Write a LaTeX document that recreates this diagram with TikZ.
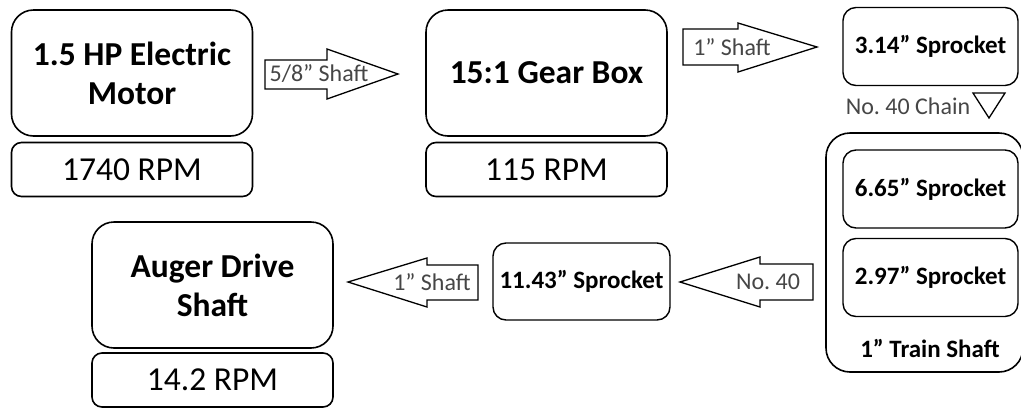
\documentclass[tikz,border=0pt]{standalone}
\usepackage{fontspec}
\setmainfont{Carlito}
\usepackage{tikz}
\usetikzlibrary{positioning}
\definecolor{lblgray}{RGB}{70,70,70}
\frenchspacing

\begin{document}
\begin{tikzpicture}[x=1pt, y=-1pt,
        bigbox/.style={draw, line width=1.6pt, rounded corners=22pt, align=center,
                       inner sep=0pt, minimum width=241pt, minimum height=126pt,
                       font=\bfseries\fontsize{33.5}{39}\selectfont},
        rpmbox/.style={draw, line width=1.6pt, rounded corners=10pt, inner sep=0pt,
                       minimum width=241pt, minimum height=54pt,
                       font=\fontsize{33.5}{39}\selectfont},
        sprbox/.style={draw, line width=1.4pt, rounded corners=13pt, inner sep=0pt,
                       minimum width=175pt, minimum height=78pt,
                       font=\bfseries\fontsize{25}{29}\selectfont},
        barrow/.style={draw, line width=1.3pt, fill=white, line join=miter},
        shaftlbl/.style={inner sep=0pt, text=lblgray, font=\fontsize{24}{28}\selectfont}
      ]
        \useasboundingbox (0,0) rectangle (1021,408);
        % Top row
        \node[bigbox] (motor) at (132,73) {1.5 HP Electric\\Motor};
        \node[rpmbox] (motorrpm) at (132,169.5) {1740 RPM};
        \node[bigbox] (gearbox) at (546.5,73) {15:1 Gear Box};
        \node[rpmbox] (gearrpm) at (546.5,169.5) {115 RPM};
        \node[sprbox] (spr314) at (930.5,46.5) {3.14” Sprocket};
        % 5/8" shaft
        \draw[barrow] (265,60) -- (327,60) -- (327,49) -- (398,74) -- (327,99)
          -- (327,89) -- (265,89) -- cycle;
        \node[shaftlbl] (shaftA) at (319,74) {5/8” Shaft};
        % 1" shaft
        \draw[barrow] (683,29) -- (738,29) -- (738,23) -- (817,47) -- (738,72)
          -- (738,65) -- (683,65) -- cycle;
        \node[shaftlbl] (shaftB) at (732,47) {1” Shaft};
        % Chain
        \node[shaftlbl] (chainlbl) at (908,106) {No. 40 Chain};
        \draw[barrow] (973,93) -- (1005,93) -- (989,118) -- cycle;
        % Train shaft
        \node[draw, line width=1.6pt, rounded corners=24pt, minimum width=197pt,
              minimum height=239pt] (trainshaft) at (924.5,252.5) {};
        \node[sprbox] (spr665) at (930.5,189) {6.65” Sprocket};
        \node[sprbox] (spr297) at (930.5,277.5) {2.97” Sprocket};
        \node[inner sep=0pt, font=\bfseries\fontsize{25}{29}\selectfont]
          (trainlbl) at (930,348) {1” Train Shaft};
        % Bottom row
        \draw[barrow] (813,264) -- (760,264) -- (760,257) -- (680,282) -- (760,307)
          -- (760,300) -- (813,300) -- cycle;
        \node[shaftlbl] (chainB) at (768,282) {No. 40};
        \node[sprbox, minimum width=177pt, minimum height=77pt] (spr1143)
          at (581.5,281.5) {11.43” Sprocket};
        \draw[barrow] (478,265) -- (427,265) -- (427,258) -- (348,282) -- (427,307)
          -- (427,300) -- (478,300) -- cycle;
        \node[shaftlbl] (shaftC) at (432,282) {1” Shaft};
        \node[bigbox] (auger) at (212.5,285) {Auger Drive\\Shaft};
        \node[rpmbox] (augerrpm) at (212.5,380) {14.2 RPM};
      \end{tikzpicture}
\end{document}
